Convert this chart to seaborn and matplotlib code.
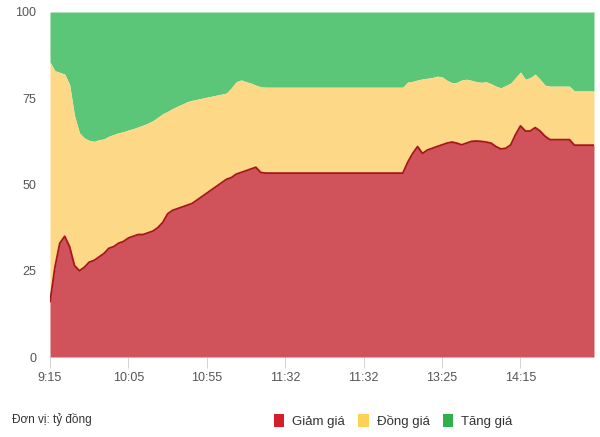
import matplotlib

matplotlib.use("Agg")

import matplotlib.pyplot as plt
import numpy as np
import pandas as pd
import seaborn as sns
from matplotlib.patches import Patch

# share of trading value (%), cumulative from the bottom
giam = [
    16, 26, 33, 35, 32, 26.5, 25, 26, 27.5, 28, 29, 30, 31.5, 32, 33, 33.5,
    34.5, 35, 35.5, 35.5, 36, 36.5, 37.5, 39, 41.5, 42.5, 43, 43.5, 44, 44.5, 45.5, 46.5,
    47.5, 48.5, 49.5, 50.5, 51.5, 52, 53, 53.5, 54, 54.5, 55, 53.5, 53.3, 53.3, 53.3, 53.3,
    53.3, 53.3, 53.3, 53.3, 53.3, 53.3, 53.3, 53.3, 53.3, 53.3, 53.3, 53.3, 53.3, 53.3, 53.3, 53.3,
    53.3, 53.3, 53.3, 53.3, 53.3, 53.3, 53.3, 53.3, 53.3, 56.5, 59, 61, 59, 60, 60.5, 61,
    61.5, 62, 62.3, 62, 61.5, 62, 62.5, 62.6, 62.5, 62.3, 62, 61, 60.3, 60.5, 61.5, 64.5,
    67, 65.5, 65.5, 66.5, 65.5, 64, 63, 63, 63, 63, 63, 61.4, 61.4, 61.4, 61.4, 61.4,
]
giam_dong = [
    85.5, 83, 82.5, 82, 79, 70, 65, 63.5, 62.8, 62.5, 63, 63.2, 64, 64.5, 65, 65.3,
    65.8, 66.2, 66.7, 67.2, 67.8, 68.5, 69.5, 70.5, 71.2, 72, 72.7, 73.3, 74, 74.4, 74.7, 75,
    75.3, 75.6, 75.9, 76.2, 76.5, 78, 79.8, 80.3, 79.8, 79.4, 78.8, 78.3, 78.2, 78.2, 78.2, 78.2,
    78.2, 78.2, 78.2, 78.2, 78.2, 78.2, 78.2, 78.2, 78.2, 78.2, 78.2, 78.2, 78.2, 78.2, 78.2, 78.2,
    78.2, 78.2, 78.2, 78.2, 78.2, 78.2, 78.2, 78.2, 78.2, 79.7, 79.9, 80.3, 80.6, 80.8, 81, 81.4,
    81.2, 80.2, 79.5, 79.6, 80.3, 80.5, 80.2, 79.8, 79.6, 79.8, 79.2, 78.5, 78, 78.7, 79.4, 81,
    82.6, 80.5, 81, 82, 80.5, 78.8, 78.5, 78.5, 78.5, 78.5, 78.5, 77.1, 77.1, 77.1, 77.1, 77.1,
]
tick_labels = ["9:15", "10:05", "10:55", "11:32", "11:32", "13:25", "14:15"]
series_names = ["Giảm giá", "Đồng giá", "Tăng giá"]

RED, RED_LINE = "#d0525b", "#a8141c"
YELLOW = "#fdd886"
GREEN = "#5cc678"
LEG_COLORS = ["#d21f2b", "#fbd256", "#2fb04a"]
GREY = "#555555"

df = pd.DataFrame({"idx": np.arange(len(giam)), "giam": giam, "giam_dong": giam_dong})

sns.set_theme(style="white")
plt.rcParams["font.family"] = ["Liberation Sans Narrow", "Liberation Sans", "DejaVu Sans"]

fig = plt.figure(figsize=(6.0, 4.37), dpi=100)
ax = fig.add_axes([50 / 600, 80 / 437, 544 / 600, 345 / 437])

ax.fill_between(df["idx"], df["giam_dong"], 100, color=GREEN, linewidth=0)
ax.fill_between(df["idx"], df["giam"], df["giam_dong"], color=YELLOW, linewidth=0)
ax.fill_between(df["idx"], 0, df["giam"], color=RED, linewidth=0)
sns.lineplot(data=df, x="idx", y="giam", color=RED_LINE, linewidth=1.3, ax=ax)

ax.set_xlim(0, len(giam) - 1)
ax.set_ylim(0, 100)
ax.set_yticks([0, 25, 50, 75, 100])
ax.set_xticks(np.arange(len(tick_labels)) * 16)
ax.set_xticklabels(tick_labels)
ax.set_xlabel("")
ax.set_ylabel("")
for s in ax.spines.values():
    s.set_visible(False)
ax.tick_params(axis="x", length=8, width=0.6, color="#cccccc", colors=GREY,
               labelsize=9, pad=3, bottom=True)
ax.tick_params(axis="x", labelcolor=GREY)
ax.tick_params(axis="y", length=0, labelsize=9, labelcolor=GREY, pad=10)

fig.text(12 / 600, 1 - 420 / 437, "Đơn vị: tỷ đồng", fontsize=8.5, color="#333333",
         va="center", ha="left")
handles = [Patch(facecolor=c, edgecolor="none") for c in LEG_COLORS]
fig.legend(handles, series_names, loc="center left", bbox_to_anchor=(262 / 600, 1 - 421 / 437),
           ncol=3, frameon=False, fontsize=9.5, handlelength=0.8, handleheight=1.1,
           handletextpad=0.6, columnspacing=1.0, labelcolor="#333333")

fig.savefig("out.png", dpi=100)
